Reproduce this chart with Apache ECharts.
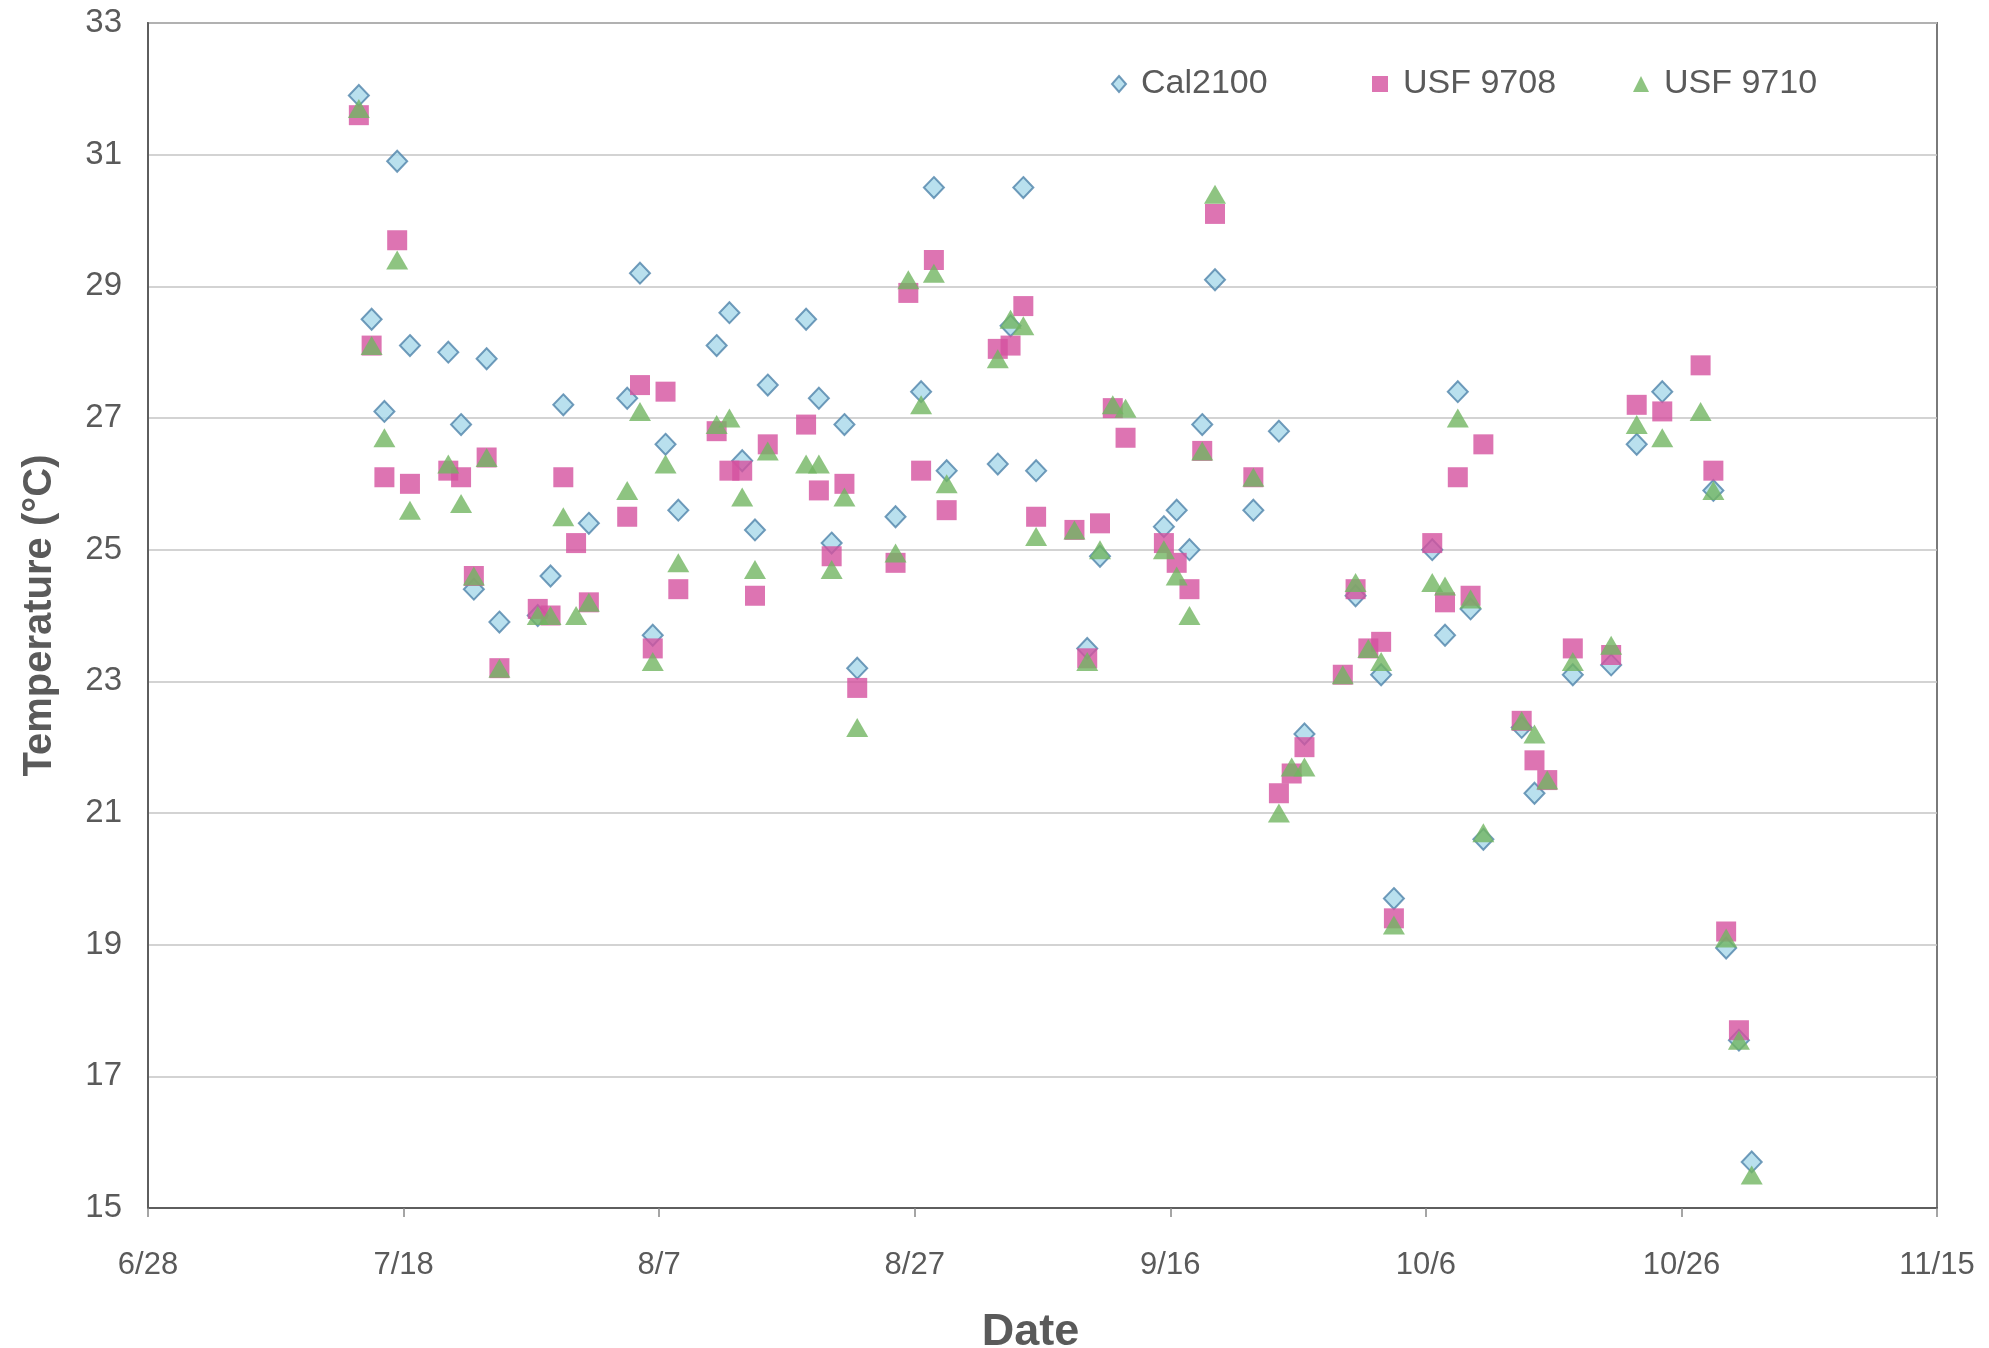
<!DOCTYPE html>
<html>
<head>
<meta charset="utf-8">
<title>Temperature (°C) by Date</title>
<script src="https://cdn.jsdelivr.net/npm/echarts@6/dist/echarts.min.js"></script>
<style>
  html, body { margin: 0; padding: 0; background: #ffffff; }
  #chart { width: 1989px; height: 1348px; }
</style>
</head>
<body>
<div id="chart"></div>
<script>
// Sampling dates (weekdays, logged around midday)
const dates = [
  '7/14','7/15','7/16','7/17','7/18',
  '7/21','7/22','7/23','7/24','7/25',
  '7/28','7/29','7/30','7/31','8/1',
  '8/4','8/5','8/6','8/7','8/8',
  '8/11','8/12','8/13','8/14','8/15',
  '8/18','8/19','8/20','8/21','8/22',
  '8/25','8/26','8/27','8/28','8/29',
  '9/2','9/3','9/4','9/5',
  '9/8','9/9','9/10','9/11','9/12',
  '9/15','9/16','9/17','9/18','9/19',
  '9/22','9/24','9/25','9/26',
  '9/29','9/30','10/1','10/2','10/3',
  '10/6','10/7','10/8','10/9','10/10',
  '10/13','10/14','10/15','10/17',
  '10/20','10/22','10/24',
  '10/27','10/28','10/29','10/30','10/31'
];

// Temperatures (°C); null where the instrument has no reading
const cal2100 = [
  31.9, 28.5, 27.1, 30.9, 28.1,
  28.0, 26.9, 24.4, 27.9, 23.9,
  24.0, 24.6, 27.2, null, 25.4,
  27.3, 29.2, 23.7, 26.6, 25.6,
  28.1, 28.6, 26.35, 25.3, 27.5,
  28.5, 27.3, 25.1, 26.9, 23.2,
  25.5, null, 27.4, 30.5, 26.2,
  26.3, 28.4, 30.5, 26.2,
  null, 23.5, 24.9, null, null,
  25.35, 25.6, 25.0, 26.9, 29.1,
  25.6, 26.8, null, 22.2,
  null, 24.3, null, 23.1, 19.7,
  25.0, 23.7, 27.4, 24.1, 20.6,
  22.3, 21.3, null, 23.1,
  23.25, 26.6, 27.4,
  null, 25.9, 18.95, 17.55, 15.7
];

const usf9708 = [
  31.6, 28.1, 26.1, 29.7, 26.0,
  26.2, 26.1, 24.6, 26.4, 23.2,
  24.1, 24.0, 26.1, 25.1, 24.2,
  25.5, 27.5, 23.5, 27.4, 24.4,
  26.8, 26.2, 26.2, 24.3, 26.6,
  26.9, 25.9, 24.9, 26.0, 22.9,
  24.8, 28.9, 26.2, 29.4, 25.6,
  28.05, 28.1, 28.7, 25.5,
  25.3, 23.35, 25.4, 27.15, 26.7,
  25.1, 24.8, 24.4, 26.5, 30.1,
  26.1, 21.3, 21.6, 22.0,
  23.1, 24.4, 23.5, 23.6, 19.4,
  25.1, 24.2, 26.1, 24.3, 26.6,
  22.4, 21.8, 21.5, 23.5,
  23.4, 27.2, 27.1,
  27.8, 26.2, 19.2, 17.7, null
];

const usf9710 = [
  31.7, 28.1, 26.7, 29.4, 25.6,
  26.3, 25.7, 24.6, 26.4, 23.2,
  24.0, 24.0, 25.5, 24.0, 24.2,
  25.9, 27.1, 23.3, 26.3, 24.8,
  26.9, 27.0, 25.8, 24.7, 26.5,
  26.3, 26.3, 24.7, 25.8, 22.3,
  24.95, 29.1, 27.2, 29.2, 26.0,
  27.9, 28.5, 28.4, 25.2,
  25.3, 23.3, 25.0, 27.2, 27.15,
  25.0, 24.6, 24.0, 26.5, 30.4,
  26.1, 21.0, 21.7, 21.7,
  23.1, 24.5, 23.5, 23.3, 19.3,
  24.5, 24.45, 27.0, 24.25, 20.7,
  22.4, 22.2, 21.5, 23.3,
  23.55, 26.9, 26.7,
  27.1, 25.9, 19.1, 17.55, 15.5
];

const seriesNames = ['Cal2100', 'USF 9708', 'USF 9710'];
const yTicks = [15, 17, 19, 21, 23, 25, 27, 29, 31, 33];

// Date axis runs in days counted from 6/28
const YEAR = 2003;
const ORIGIN = Date.UTC(YEAR, 5, 28);
const DAY = 86400000;
const AXIS_DAYS = 140;   // 6/28 .. 11/15
const TICK_DAYS = 20;

function dayOffset(md) {
  const [m, d] = md.split('/').map(Number);
  return (Date.UTC(YEAR, m - 1, d) - ORIGIN) / DAY + 0.5; // midday reading
}
function dayLabel(v) {
  const t = new Date(ORIGIN + v * DAY);
  return (t.getUTCMonth() + 1) + '/' + t.getUTCDate();
}
function pairs(values) {
  return dates.map((md, i) => [dayOffset(md), values[i]]).filter(p => p[1] !== null);
}

const FONT = "'Liberation Sans', Arial, Helvetica, sans-serif";
const LABEL_COLOR = '#5a5a5a';

const chart = echarts.init(document.getElementById('chart'), null, { renderer: 'canvas' });

const legendBase = {
  top: 62,
  itemWidth: 16,
  itemHeight: 16,
  textStyle: { fontFamily: FONT, fontSize: 34, color: LABEL_COLOR, padding: [0, 0, 0, 10] },
  selectedMode: false
};

chart.setOption({
  backgroundColor: '#ffffff',
  animation: false,
  grid: {
    left: 148, right: 52, top: 23, bottom: 140,
    containLabel: false,
    outerBoundsMode: 'none',
    show: true, borderColor: '#7a7a7a', borderWidth: 2, backgroundColor: 'transparent'
  },
  legend: [
    Object.assign({}, legendBase, { left: 1106, data: [{ name: seriesNames[0], icon: 'diamond' }], itemWidth: 14, itemHeight: 16 }),
    Object.assign({}, legendBase, { left: 1367, data: [{ name: seriesNames[1], icon: 'rect' }] }),
    Object.assign({}, legendBase, { left: 1628, data: [{ name: seriesNames[2], icon: 'triangle' }] })
  ],
  xAxis: {
    type: 'value',
    min: 0, max: AXIS_DAYS, interval: TICK_DAYS,
    name: 'Date',
    nameLocation: 'middle',
    nameGap: 102,
    nameTextStyle: { fontFamily: FONT, fontSize: 45, fontWeight: 'bold', color: LABEL_COLOR, padding: [0, 24, 0, 0] },
    axisLine: { show: true, onZero: false, lineStyle: { color: '#5e5e5e', width: 2 } },
    axisTick: { show: true, inside: false, length: 9, lineStyle: { color: '#888888', width: 1.5 } },
    axisLabel: { formatter: dayLabel, fontFamily: FONT, fontSize: 31, color: LABEL_COLOR, margin: 42 },
    splitLine: { show: false }
  },
  yAxis: {
    type: 'value',
    min: yTicks[0], max: yTicks[yTicks.length - 1], interval: 2,
    name: 'Temperature (°C)',
    nameLocation: 'middle',
    nameGap: 88,
    nameTextStyle: { fontFamily: FONT, fontSize: 40, fontWeight: 'bold', color: LABEL_COLOR },
    axisLine: { show: true, onZero: false, lineStyle: { color: '#5e5e5e', width: 2 } },
    axisTick: { show: false },
    axisLabel: { fontFamily: FONT, fontSize: 33, color: LABEL_COLOR, margin: 26 },
    splitLine: { show: true, lineStyle: { color: '#c4c4c4', width: 1.5 } }
  },
  series: [
    {
      name: seriesNames[0], type: 'scatter', symbol: 'diamond', symbolSize: [20, 21],
      itemStyle: { color: '#a8d8ea', borderColor: '#4f83aa', borderWidth: 2 },
      data: pairs(cal2100), z: 2
    },
    {
      name: seriesNames[1], type: 'scatter', symbol: 'rect', symbolSize: 20,
      itemStyle: { color: '#d4519f' },
      data: pairs(usf9708), z: 3
    },
    {
      name: seriesNames[2], type: 'scatter', symbol: 'triangle', symbolSize: [22, 19],
      itemStyle: { color: '#72b562' },
      data: pairs(usf9710), z: 4
    }
  ]
});
</script>
</body>
</html>
